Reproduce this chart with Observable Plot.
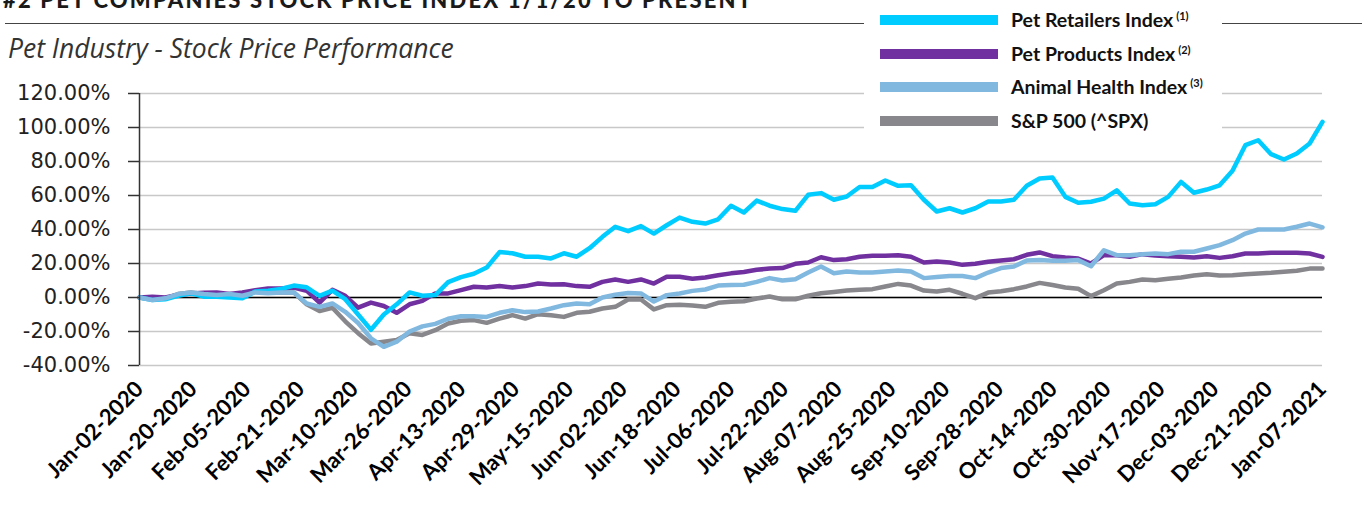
<!DOCTYPE html>
<html>
<head>
<meta charset="utf-8">
<script src="https://cdn.jsdelivr.net/npm/d3@7"></script>
<script src="https://cdn.jsdelivr.net/npm/@observablehq/plot@0.6"></script>
<style>
  html, body { margin: 0; padding: 0; background: #fff; }
  #page { position: relative; width: 1366px; height: 510px; overflow: hidden; }
  #head { position: relative; height: 80px; }
  #title { position: absolute; left: 3px; top: -11px; font: 900 22px/22px "Lato", sans-serif; color: #1a1a1a; white-space: nowrap; letter-spacing: 2.2px; }
  #rule { position: absolute; left: 5px; width: 1357px; top: 23px; height: 0; border-top: 1.5px solid #444; }
  #subtitle { position: absolute; left: 8px; top: 35px; font: italic 400 26.5px/26px "Open Sans", sans-serif; color: #333; white-space: nowrap; }
  #legend { position: absolute; left: 864px; top: 0; width: 358px; height: 135px; background: #fff; }
  .lrow { position: absolute; left: 0; height: 22px; width: 358px; }
  .sw { position: absolute; left: 16px; top: 6px; width: 118px; height: 10px; }
  .lt { position: absolute; left: 147px; top: 0; font: 700 19.5px/22px "Lato", sans-serif; color: #111; white-space: nowrap; }
  .lt sup { font-size: 11px; position: relative; top: -4px; vertical-align: top; margin-left: 3px; }
  #chart { position: absolute; left: 0; top: 80px; }
</style>
</head>
<body>
<div id="page">
  <div id="head">
    <div id="title"></div>
    <div id="rule"></div>
    <div id="subtitle"></div>
  </div>
  <div id="chart"></div>
  <div id="legend"></div>
</div>
<script>
const titleText = "#2 PET COMPANIES STOCK PRICE INDEX 1/1/20 TO PRESENT";
const subtitleText = "Pet Industry - Stock Price Performance";

const dateLabels = ["Jan-02-2020","Jan-20-2020","Feb-05-2020","Feb-21-2020","Mar-10-2020","Mar-26-2020",
  "Apr-13-2020","Apr-29-2020","May-15-2020","Jun-02-2020","Jun-18-2020","Jul-06-2020","Jul-22-2020",
  "Aug-07-2020","Aug-25-2020","Sep-10-2020","Sep-28-2020","Oct-14-2020","Oct-30-2020","Nov-17-2020",
  "Dec-03-2020","Dec-21-2020","Jan-07-2021"];

const yTicks = [-40, -20, 0, 20, 40, 60, 80, 100, 120];

const seriesNames = ["Pet Retailers Index", "Pet Products Index", "Animal Health Index", "S&P 500 (^SPX)"];
const seriesNotes = ["(1)", "(2)", "(3)", ""];
const seriesColors = ["#00CCFF", "#7030A0", "#80B8E0", "#87878C"];

// % change since Jan-02-2020, sampled evenly across the period
const petRetailers = [0,-1.5,-1,1,2.5,0.5,0.5,0,-0.5,3.5,4,5,7,6,1,4,-1,-10,-19,-10,-4,3,1,1.4,
  9,12,14,17.6,26.7,26,24,24,23,26,24,29,35.7,41.6,39,42,37.6,42.5,47,44.5,43.5,46,54,50,57,54,52,51,
  60.4,61.4,57.5,59.4,65,65,68.8,65.7,66,57.5,50.6,52.5,50,52.5,56.5,56.5,57.5,65.7,70,70.6,59.2,55.7,
  56.3,58.2,63,55.3,54.3,54.9,59.2,68,61.6,63.5,66,74.5,89.6,92.5,84.3,81.2,84.7,90.6,103.3];

const petProducts = [0,0.5,0,1.5,2.4,2.8,3,2,3,4.3,5.3,5.3,5.9,4,-3,4.5,1,-6,-3,-5,-9,-4,-2,2.4,
  2.4,4.3,6.3,5.9,6.7,5.9,6.7,8.2,7.6,7.8,6.7,6.3,9.2,10.6,9.2,10.6,8.2,12.2,12.2,11,11.8,13.1,14.2,15,
  16.3,17,17.3,19.8,20.6,23.7,22,22.5,24,24.5,24.5,24.9,24,20.6,21.2,20.6,19.2,19.8,21,21.8,22.5,25.1,
  26.5,24.3,23.5,22.9,20,24.9,24.9,23.9,25.5,24.7,24.3,23.9,23.5,24.3,23.3,24.3,25.9,25.9,26.3,26.3,26.3,25.9,23.9];

const animalHealth = [0,-1.5,-0.5,2,3,2,1.5,2,1,3,2.5,3,3,-3.5,-5.5,-3.5,-8.4,-15,-24,-29,-26,-20,-17,-15.5,
  -12.5,-11,-11,-11.4,-9,-7.5,-8.6,-8.2,-6.5,-4.5,-3.5,-3.9,0,1.6,2.7,2.4,-2.4,1.4,2.4,3.9,4.7,7,7.3,7.5,
  9.2,11.4,10,10.8,14.7,18.2,14.3,15.3,14.7,14.7,15.3,15.9,15.3,11.4,12,12.7,12.7,11.4,14.7,17.3,18.2,21.8,
  22,21.6,21.6,22,18.4,27.8,24.9,24.9,25.5,25.9,25.5,26.9,26.9,28.8,30.8,33.7,37.6,40,40,40,41.6,43.5,41.2];

const sp500 = [0,-1,-0.5,2,3,2,1.5,2,1.5,3.5,3,3,3,-4,-8,-6,-14,-21,-27,-26,-25,-21,-22,-19.2,
  -15.3,-13.7,-13.3,-14.9,-12.4,-10.4,-12.4,-9.8,-10.4,-11.4,-9,-8.4,-6.5,-5.5,-1.2,-1.2,-7,-4.5,-4.3,-4.7,
  -5.5,-3.1,-2.5,-2.2,-0.6,0.6,-1,-1,1,2.5,3.3,4.1,4.5,4.9,6.5,8,7,4.1,3.5,4.5,2.2,-0.4,2.9,3.7,4.9,6.5,
  8.6,7.3,5.9,5.1,0.8,4.3,8.2,9.2,10.6,10.2,11,11.8,12.9,13.7,12.9,13.1,13.7,14.1,14.5,15.1,15.7,17,17];

// ---- header
document.getElementById("title").textContent = titleText;
document.getElementById("subtitle").textContent = subtitleText;

// ---- legend
const legend = document.getElementById("legend");
seriesNames.forEach((name, i) => {
  const row = document.createElement("div");
  row.className = "lrow";
  row.style.top = (9 + i * 33.7) + "px";
  const sw = document.createElement("div");
  sw.className = "sw";
  sw.style.background = seriesColors[i];
  const lt = document.createElement("div");
  lt.className = "lt";
  lt.textContent = name;
  if (seriesNotes[i]) {
    const s = document.createElement("sup");
    s.textContent = seriesNotes[i];
    lt.appendChild(s);
  }
  row.appendChild(sw);
  row.appendChild(lt);
  legend.appendChild(row);
});

// ---- chart
const values = [petRetailers, petProducts, animalHealth, sp500];
const span = petRetailers.length - 1;
const toRows = (arr) => arr.map((v, i) => ({i, v}));
const tickPos = dateLabels.map((d, m) => m * span / (dateLabels.length - 1));
const labelAt = (x) => dateLabels[Math.round(x * (dateLabels.length - 1) / span)];

const drawOrder = [3, 1, 0, 2];

const chart = Plot.plot({
  width: 1366,
  height: 430,
  marginLeft: 139,
  marginRight: 44,
  marginTop: 13,
  marginBottom: 145,
  style: {fontFamily: "DejaVu Sans, sans-serif", background: "#fff", overflow: "visible"},
  x: {domain: [0, span]},
  y: {domain: [-40, 120]},
  marks: [
    Plot.gridY(yTicks, {stroke: "#c8c8c8", strokeOpacity: 1, strokeWidth: 1.5}),
    Plot.ruleY([0], {stroke: "#000", strokeWidth: 1.5}),
    ...drawOrder.map(k => Plot.line(toRows(values[k]), {
      x: "i", y: "v", stroke: seriesColors[k], strokeWidth: 4.5, strokeLinejoin: "round", curve: "linear"
    })),
    Plot.ruleX([0], {stroke: "#333", strokeWidth: 1.5}),
    Plot.axisY(yTicks, {
      tickSize: 11, tickPadding: 18, stroke: "#333", strokeWidth: 1.5,
      tickFormat: d => d.toFixed(2) + "%", fontSize: 21, fill: "#222", label: null
    }),
    Plot.axisX(tickPos, {
      tickSize: 0, tickPadding: 20, tickRotate: -45, tickFormat: labelAt,
      fontSize: 22, fontWeight: "bold", fontFamily: "Lato, sans-serif", fill: "#000", label: null
    })
  ]
});
document.getElementById("chart").appendChild(chart);
</script>
</body>
</html>
